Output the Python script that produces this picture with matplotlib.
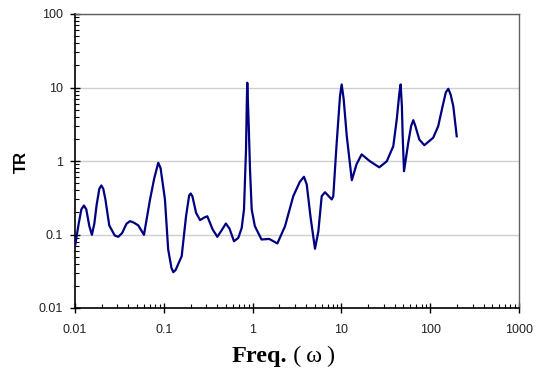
import numpy as np
import matplotlib
matplotlib.use("Agg")
import matplotlib.pyplot as plt
from matplotlib.ticker import LogLocator, FixedLocator, FixedFormatter, NullFormatter

# ======================================================================
# Data (frequency vs transmissibility)
# ======================================================================
freq = [0.01, 0.011, 0.0118, 0.0126, 0.0134, 0.0145, 0.0155, 0.0165, 0.0175,
        0.0188, 0.0198, 0.0208, 0.022, 0.0243, 0.028, 0.0307, 0.034, 0.038,
        0.0416, 0.046, 0.0516, 0.0598, 0.070, 0.078, 0.0866, 0.092, 0.103,
        0.112, 0.122, 0.128, 0.136, 0.159, 0.178, 0.193, 0.201, 0.21, 0.231,
        0.256, 0.285, 0.309, 0.355, 0.401, 0.45, 0.50, 0.55, 0.617, 0.69,
        0.754, 0.80, 0.843, 0.862, 0.871, 0.882, 0.905, 0.935, 0.977, 1.06,
        1.26, 1.54, 1.90, 2.32, 2.87, 3.4, 3.79, 4.07, 4.5, 5.04, 5.5, 6.0,
        6.54, 7.78, 8.1, 8.8, 9.64, 10.07, 10.6, 11.5, 13.1, 14.8, 16.9, 21.0,
        26.7, 32.4, 38.4, 42.0, 45.0, 46.5, 48.0, 49.0, 50.7, 56.6, 61.0,
        64.5, 68.0, 75.4, 85.9, 108, 123, 138, 150, 160, 170, 182, 199]
tr = [0.069, 0.14, 0.22, 0.248, 0.22, 0.13, 0.099, 0.14, 0.25,
      0.42, 0.465, 0.42, 0.30, 0.133, 0.097, 0.093, 0.105, 0.14,
      0.152, 0.145, 0.133, 0.099, 0.30, 0.58, 0.945, 0.80, 0.30,
      0.0625, 0.035, 0.0307, 0.033, 0.0507, 0.177, 0.34, 0.361, 0.33, 0.197,
      0.157, 0.17, 0.177, 0.117, 0.093, 0.115, 0.141, 0.12, 0.081, 0.09,
      0.123, 0.219, 1.43, 7.0, 11.6, 7.5, 3.0, 0.766, 0.219, 0.13,
      0.0855, 0.087, 0.0755, 0.13, 0.332, 0.52, 0.61, 0.479, 0.17, 0.064, 0.11, 0.332,
      0.376, 0.30, 0.33, 1.6, 7.6, 11.0, 7.0, 2.17, 0.548, 0.9, 1.23, 0.99,
      0.82, 0.99, 1.59, 3.67, 8.5, 11.0, 5.5, 2.17, 0.726, 1.77, 3.0,
      3.59, 3.0, 1.96, 1.64, 2.07, 2.97, 5.57, 8.6, 9.6, 8.0, 5.57, 2.17]

x_ticks = [0.01, 0.1, 1, 10, 100, 1000]
x_labels = ["0.01", "0.1", "1", "10", "100", "1000"]
y_ticks = [0.01, 0.1, 1, 10, 100]
y_labels = ["0.01", "0.1", "1", "10", "100"]

# ======================================================================
# Figure
# ======================================================================
fig = plt.figure(figsize=(5.4, 3.73), dpi=100)
ax = fig.add_axes([75 / 540, 1 - 308 / 373, 444 / 540, 294 / 373])

ax.plot(freq, tr, color="#000080", linewidth=1.6, solid_joinstyle="round",
        zorder=3)

ax.set_xscale("log")
ax.set_yscale("log")
ax.set_xlim(0.01, 1000)
ax.set_ylim(0.01, 100)

# major ticks / labels
ax.xaxis.set_major_locator(FixedLocator(x_ticks))
ax.xaxis.set_major_formatter(FixedFormatter(x_labels))
ax.yaxis.set_major_locator(FixedLocator(y_ticks))
ax.yaxis.set_major_formatter(FixedFormatter(y_labels))
ax.xaxis.set_minor_locator(LogLocator(base=10, subs=np.arange(2, 10), numticks=20))
ax.yaxis.set_minor_locator(LogLocator(base=10, subs=np.arange(2, 10), numticks=20))
ax.xaxis.set_minor_formatter(NullFormatter())
ax.yaxis.set_minor_formatter(NullFormatter())

ax.tick_params(which="major", direction="inout", length=7, width=1,
               labelsize=9, colors="black", top=False, right=False)
ax.tick_params(which="minor", direction="in", length=3, width=0.8,
               top=False, right=False)
ax.tick_params(axis="x", which="major", pad=8)
ax.tick_params(axis="y", which="major", pad=5)
for lab in ax.get_xticklabels() + ax.get_yticklabels():
    lab.set_fontfamily("Liberation Sans")
    lab.set_color("#222222")

# gridlines on y majors
ax.yaxis.grid(True, which="major", color="#cfcfcf", linewidth=1)
ax.set_axisbelow(True)

for side in ["left", "bottom"]:
    ax.spines[side].set_color("black")
    ax.spines[side].set_linewidth(1.2)
for side in ["top", "right"]:
    ax.spines[side].set_color("#606060")
    ax.spines[side].set_linewidth(1)

# axis labels
fig.text(21 / 540, 1 - 162 / 373, "TR", rotation=90, ha="center", va="center",
         fontsize=12, fontweight="bold", family="Liberation Sans")
fig.text(287 / 540, 1 - 362 / 373, "Freq.", ha="right", va="baseline",
         fontsize=17.5, fontweight="bold", family="Liberation Serif")
fig.text(287 / 540, 1 - 362 / 373, " (\u2009\u03c9\u2009)", ha="left",
         va="baseline", fontsize=17.5, family=["Liberation Serif", "DejaVu Serif"])

fig.savefig("out.png", dpi=100)
